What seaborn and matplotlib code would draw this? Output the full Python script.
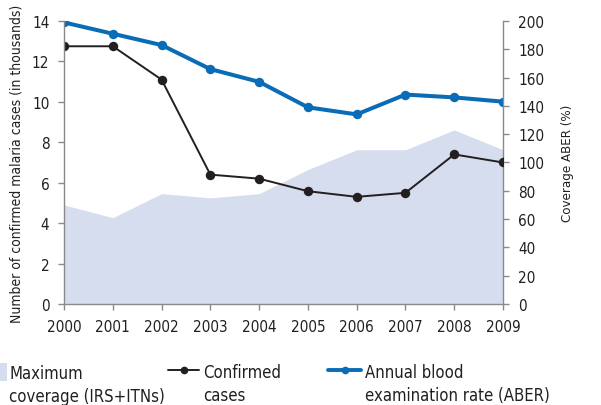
import matplotlib
matplotlib.use("Agg")
import matplotlib.pyplot as plt
import seaborn as sns
import pandas as pd
from matplotlib.patches import Patch
from matplotlib.lines import Line2D

years = [2000, 2001, 2002, 2003, 2004, 2005, 2006, 2007, 2008, 2009]
confirmed_cases = [12.75, 12.75, 11.1, 6.4, 6.2, 5.58, 5.3, 5.5, 7.4, 7.0]   # thousands
aber = [199, 191, 183, 166, 157, 139, 134, 148, 146, 143]                      # %
max_coverage = [70, 61, 78, 75, 78, 95, 109, 109, 123, 109]                    # %

left_ticks = [0, 2, 4, 6, 8, 10, 12, 14]
right_ticks = [0, 20, 40, 60, 80, 100, 120, 140, 160, 180, 200]

df = pd.DataFrame({"year": years, "cases": confirmed_cases,
                   "aber": aber, "coverage": max_coverage})

sns.set_theme(style="white")
plt.rcParams["font.family"] = ["DejaVu Sans"]
plt.rcParams["font.stretch"] = "condensed"

TXT = "#231f20"
GREY = "#8a8a8a"
BLACK = "#231f20"
BLUE = "#0a6cb6"
AREA = "#d6ddee"

fig = plt.figure(figsize=(6.01, 4.06), dpi=100)
ax = fig.add_axes([0.1065, 0.2488, 0.7305, 0.697])
ax2 = ax.twinx()

# coverage area and ABER on the right (%) axis, drawn underneath
ax2.fill_between(df["year"], 0, df["coverage"], color=AREA, linewidth=0)
sns.lineplot(data=df, x="year", y="aber", ax=ax2, color=BLUE, linewidth=2.9,
             marker="o", markersize=6.8, markeredgewidth=0)

# confirmed cases on the left axis, on top
ax.set_zorder(ax2.get_zorder() + 1)
ax.patch.set_visible(False)
sns.lineplot(data=df, x="year", y="cases", ax=ax, color=BLACK, linewidth=1.4,
             marker="o", markersize=6.8, markeredgewidth=0)

ax.set_xlim(2000, 2009)
ax.set_ylim(0, 14)
ax2.set_ylim(0, 200)
ax.set_xticks(years)
ax.set_xticklabels([str(y) for y in years])
ax.set_yticks(left_ticks)
ax2.set_yticks(right_ticks)

ax.set_xlabel("")
ax.set_ylabel("Number of confirmed malaria cases (in thousands)", fontsize=10,
              color=TXT, labelpad=6)
ax2.set_ylabel("Coverage ABER (%)", fontsize=9.5, color=TXT, labelpad=12)

for a in (ax, ax2):
    for s in a.spines.values():
        s.set_visible(False)
    a.tick_params(axis="both", colors=GREY, labelcolor=TXT, labelsize=11,
                  length=4.5, width=1, direction="out")
ax.spines["left"].set_visible(True)
ax.spines["bottom"].set_visible(True)
ax2.spines["right"].set_visible(True)
for s in (ax.spines["left"], ax.spines["bottom"], ax2.spines["right"]):
    s.set_color(GREY)
    s.set_linewidth(1)
ax.tick_params(axis="y", left=True, right=False, pad=6)
ax.tick_params(axis="x", bottom=True, pad=6)
ax2.tick_params(axis="y", right=True, left=False, pad=6.5)

# legend entries, one block each, with a second label line below
entries = [
    (Patch(facecolor=AREA, edgecolor="none"), "Maximum", "coverage (IRS+ITNs)",
     -0.055, 2.4, 1.35, 0.15),
    (Line2D([], [], color=BLACK, lw=1.4, marker="o", markersize=4.5), "Confirmed", "cases",
     0.279, 1.9, 0.9, 0.2),
    (Line2D([], [], color=BLUE, lw=2.8, marker="o", markersize=4.5), "Annual blood",
     "examination rate (ABER)", 0.546, 2.0, 0.9, 0.2),
]
legends = []
for handle, first, second, x0, hlen, hheight, hpad in entries:
    leg = fig.legend([handle], [first], loc="upper left", bbox_to_anchor=(x0, 0.104),
                     frameon=False, fontsize=12, handlelength=hlen, handleheight=hheight,
                     handletextpad=hpad, borderpad=0, borderaxespad=0)
    for t in leg.get_texts():
        t.set_color(TXT)
    legends.append((leg, second))

fig.canvas.draw()
renderer = fig.canvas.get_renderer()
inv = fig.transFigure.inverted()
for leg, second in legends:
    bb = leg.get_texts()[0].get_window_extent(renderer)
    x, y = inv.transform((bb.x0, bb.y0))
    fig.text(x, y - 0.013, second, fontsize=12, color=TXT, ha="left", va="top")

fig.savefig("out.png", dpi=100)
